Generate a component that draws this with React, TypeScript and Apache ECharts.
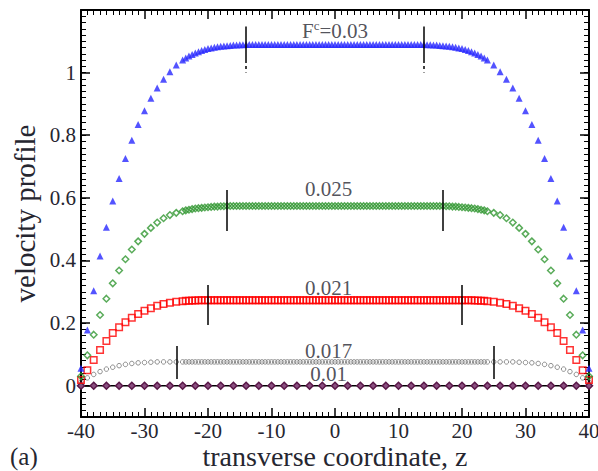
import React, { useEffect, useRef } from 'react';
import * as echarts from 'echarts';

// transverse coordinate z (shared grid for the four dense series)
const X = [
  -40, -39, -38, -37, -36, -35, -34, -33, -32, -31, -30, -29, -28, -27, -26, -25,
  -24, -23.5, -23, -22.5, -22, -21.5, -21, -20.5, -20, -19.5, -19, -18.5, -18, -17.5, -17, -16.5,
  -16, -15.5, -15, -14.5, -14, -13.5, -13, -12.5, -12, -11.5, -11, -10.5, -10, -9.5, -9, -8.5,
  -8, -7.5, -7, -6.5, -6, -5.5, -5, -4.5, -4, -3.5, -3, -2.5, -2, -1.5, -1, -0.5,
  0,
  0.5, 1, 1.5, 2, 2.5, 3, 3.5, 4, 4.5, 5, 5.5, 6, 6.5, 7, 7.5, 8,
  8.5, 9, 9.5, 10, 10.5, 11, 11.5, 12, 12.5, 13, 13.5, 14, 14.5, 15, 15.5, 16,
  16.5, 17, 17.5, 18, 18.5, 19, 19.5, 20, 20.5, 21, 21.5, 22, 22.5, 23, 23.5, 24,
  25, 26, 27, 28, 29, 30, 31, 32, 33, 34, 35, 36, 37, 38, 39, 40,
];

// Fc = 0.03 (blue triangles)
const V030 = [
  0.056, 0.178, 0.303, 0.414, 0.506, 0.590, 0.662, 0.726, 0.784, 0.834, 0.878, 0.918, 0.951, 0.979, 1.003, 1.024,
  1.040, 1.047, 1.053, 1.058, 1.063, 1.067, 1.071, 1.074, 1.077, 1.079, 1.081, 1.083, 1.084, 1.085, 1.086, 1.087,
  1.088, 1.088, 1.089, 1.089, 1.09, 1.09, 1.09, 1.09, 1.09, 1.09, 1.09, 1.09, 1.09, 1.09, 1.09, 1.09,
  1.09, 1.09, 1.09, 1.09, 1.09, 1.09, 1.09, 1.09, 1.09, 1.09, 1.09, 1.09, 1.09, 1.09, 1.09, 1.09,
  1.09,
  1.09, 1.09, 1.09, 1.09, 1.09, 1.09, 1.09, 1.09, 1.09, 1.09, 1.09, 1.09, 1.09, 1.09, 1.09, 1.09,
  1.09, 1.09, 1.09, 1.09, 1.09, 1.09, 1.09, 1.09, 1.09, 1.09, 1.09, 1.09, 1.089, 1.089, 1.088, 1.088,
  1.087, 1.086, 1.085, 1.084, 1.083, 1.081, 1.079, 1.077, 1.074, 1.071, 1.067, 1.063, 1.058, 1.053, 1.047, 1.040,
  1.024, 1.003, 0.979, 0.951, 0.918, 0.878, 0.834, 0.784, 0.726, 0.662, 0.590, 0.506, 0.414, 0.303, 0.178, 0.056,
];

// Fc = 0.025 (green diamonds)
const V025 = [
  0.030, 0.097, 0.163, 0.226, 0.278, 0.327, 0.368, 0.404, 0.435, 0.461, 0.485, 0.504, 0.521, 0.535, 0.545, 0.552,
  0.557, 0.560, 0.562, 0.564, 0.566, 0.567, 0.568, 0.569, 0.570, 0.571, 0.572, 0.572, 0.573, 0.573, 0.574, 0.574,
  0.574, 0.574, 0.574, 0.574, 0.574, 0.574, 0.574, 0.574, 0.574, 0.574, 0.574, 0.574, 0.574, 0.574, 0.574, 0.574,
  0.574, 0.574, 0.574, 0.574, 0.574, 0.574, 0.574, 0.574, 0.574, 0.574, 0.574, 0.574, 0.574, 0.574, 0.574, 0.574,
  0.574,
  0.574, 0.574, 0.574, 0.574, 0.574, 0.574, 0.574, 0.574, 0.574, 0.574, 0.574, 0.574, 0.574, 0.574, 0.574, 0.574,
  0.574, 0.574, 0.574, 0.574, 0.574, 0.574, 0.574, 0.574, 0.574, 0.574, 0.574, 0.574, 0.574, 0.574, 0.574, 0.574,
  0.574, 0.574, 0.573, 0.573, 0.572, 0.572, 0.571, 0.570, 0.569, 0.568, 0.567, 0.566, 0.564, 0.562, 0.560, 0.557,
  0.552, 0.545, 0.535, 0.521, 0.504, 0.485, 0.461, 0.435, 0.404, 0.368, 0.327, 0.278, 0.226, 0.163, 0.097, 0.030,
];

// Fc = 0.021 (red squares)
const V021 = [
  0.018, 0.049, 0.082, 0.114, 0.143, 0.168, 0.187, 0.203, 0.217, 0.229, 0.239, 0.247, 0.255, 0.261, 0.265, 0.268,
  0.270, 0.271, 0.271, 0.272, 0.272, 0.273, 0.273, 0.273, 0.273, 0.273, 0.273, 0.273, 0.273, 0.273, 0.273, 0.273,
  0.273, 0.273, 0.273, 0.273, 0.273, 0.273, 0.273, 0.273, 0.273, 0.273, 0.273, 0.273, 0.273, 0.273, 0.273, 0.273,
  0.273, 0.273, 0.273, 0.273, 0.273, 0.273, 0.273, 0.273, 0.273, 0.273, 0.273, 0.273, 0.273, 0.273, 0.273, 0.273,
  0.273,
  0.273, 0.273, 0.273, 0.273, 0.273, 0.273, 0.273, 0.273, 0.273, 0.273, 0.273, 0.273, 0.273, 0.273, 0.273, 0.273,
  0.273, 0.273, 0.273, 0.273, 0.273, 0.273, 0.273, 0.273, 0.273, 0.273, 0.273, 0.273, 0.273, 0.273, 0.273, 0.273,
  0.273, 0.273, 0.273, 0.273, 0.273, 0.273, 0.273, 0.273, 0.273, 0.273, 0.273, 0.272, 0.272, 0.271, 0.271, 0.270,
  0.268, 0.265, 0.261, 0.255, 0.247, 0.239, 0.229, 0.217, 0.203, 0.187, 0.168, 0.143, 0.114, 0.082, 0.049, 0.018,
];

// Fc = 0.017 (grey circles)
const V017 = [
  0.012, 0.025, 0.036, 0.045, 0.053, 0.059, 0.064, 0.068, 0.071, 0.073, 0.074, 0.075, 0.076, 0.076, 0.076, 0.076,
  0.076, 0.076, 0.076, 0.076, 0.076, 0.076, 0.076, 0.076, 0.076, 0.076, 0.076, 0.076, 0.076, 0.076, 0.076, 0.076,
  0.076, 0.076, 0.076, 0.076, 0.076, 0.076, 0.076, 0.076, 0.076, 0.076, 0.076, 0.076, 0.076, 0.076, 0.076, 0.076,
  0.076, 0.076, 0.076, 0.076, 0.076, 0.076, 0.076, 0.076, 0.076, 0.076, 0.076, 0.076, 0.076, 0.076, 0.076, 0.076,
  0.076,
  0.076, 0.076, 0.076, 0.076, 0.076, 0.076, 0.076, 0.076, 0.076, 0.076, 0.076, 0.076, 0.076, 0.076, 0.076, 0.076,
  0.076, 0.076, 0.076, 0.076, 0.076, 0.076, 0.076, 0.076, 0.076, 0.076, 0.076, 0.076, 0.076, 0.076, 0.076, 0.076,
  0.076, 0.076, 0.076, 0.076, 0.076, 0.076, 0.076, 0.076, 0.076, 0.076, 0.076, 0.076, 0.076, 0.076, 0.076, 0.076,
  0.076, 0.076, 0.076, 0.076, 0.075, 0.074, 0.073, 0.071, 0.068, 0.064, 0.059, 0.053, 0.045, 0.036, 0.025, 0.012,
];

// Fc = 0.01 (purple diamonds on the black line)
const X010 = [
  -40, -38, -36, -34, -32, -30, -28, -26, -24, -22, -20, -18, -16, -14, -12, -10, -8, -6, -4, -2,
  0, 2, 4, 6, 8, 10, 12, 14, 16, 18, 20, 22, 24, 26, 28, 30, 32, 34, 36, 38, 40,
];
const V010 = [
  0, 0, 0, 0, 0, 0, 0, 0, 0, 0, 0, 0, 0, 0, 0, 0, 0, 0, 0, 0,
  0, 0, 0, 0, 0, 0, 0, 0, 0, 0, 0, 0, 0, 0, 0, 0, 0, 0, 0, 0, 0,
];

// vertical plateau markers (at +/- MARK_X), order: 0.03, 0.025, 0.021, 0.017
const MARK_X = [14, 17, 20, 25];
const MARK_TOP = [1.147, 0.625, 0.322, 0.127];
const MARK_BOTTOM = [1.04, 0.494, 0.194, 0.021];
const MARK_DASH_BOTTOM = 1.0; // dash-dot tail below the 0.03 marker

// curve annotations
const LABEL_TEXT = ['{f|F}{sup|c}{f|=0.03}', '0.025', '0.021', '0.017', '0.01'];
const LABEL_X = [0, -1, -1, -1, -1];
const LABEL_Y = [1.133, 0.628, 0.311, 0.111, 0.036];

// axis ticks / labels
const Y_MAJOR = [0, 0.2, 0.4, 0.6, 0.8, 1, 1.2];
const Y_LABELS = [0, 0.2, 0.4, 0.6, 0.8, 1];

const FONT = 'Liberation Serif';
const TXT = '#262630';

const pairs = (xs: number[], ys: number[]) => xs.map((x, i) => [x, ys[i]]);

export default function App() {
  const ref = useRef<HTMLDivElement>(null);

  useEffect(() => {
    if (!ref.current) return;
    const chart = echarts.init(ref.current, undefined, { renderer: 'svg' });

    const xBase: any = {
      type: 'value',
      min: -40,
      max: 40,
      interval: 10,
      axisLine: { onZero: false, lineStyle: { color: '#000', width: 2 } },
      axisTick: { inside: true, length: 9, lineStyle: { color: '#000', width: 1.5 } },
      minorTick: { show: true, splitNumber: 10, length: 5, lineStyle: { color: '#000', width: 1 } },
      splitLine: { show: false },
      minorSplitLine: { show: false },
    };
    const yMinor: any = {
      type: 'value',
      min: -0.1,
      max: 1.2,
      interval: 0.02,
      axisLine: { onZero: false, lineStyle: { color: '#000', width: 2 } },
      axisTick: { inside: true, length: 5, lineStyle: { color: '#000', width: 1 } },
      axisLabel: { show: false },
      splitLine: { show: false },
    };
    const yMajor: any = {
      type: 'value',
      min: -0.1,
      max: 1.2,
      interval: 0.1,
      axisLine: { show: false, onZero: false },
      axisTick: { inside: true, length: 9, customValues: Y_MAJOR, lineStyle: { color: '#000', width: 1.5 } },
      splitLine: { show: false },
    };

    const markData: any[] = [];
    MARK_X.forEach((mx, i) => {
      [-1, 1].forEach((s) => {
        markData.push([{ coord: [s * mx, MARK_TOP[i]] }, { coord: [s * mx, MARK_BOTTOM[i]] }]);
      });
    });
    [-1, 1].forEach((s) => {
      markData.push([
        { coord: [s * MARK_X[0], MARK_BOTTOM[0]], lineStyle: { type: [3, 3], color: '#000', width: 1.5 } },
        { coord: [s * MARK_X[0], MARK_DASH_BOTTOM] },
      ]);
    });

    chart.setOption({
      animation: false,
      backgroundColor: '#fff',
      grid: { left: 81, right: 9, top: 10, bottom: 54, containLabel: false, outerBoundsMode: 'none' },
      xAxis: [
        {
          ...xBase,
          position: 'bottom',
          axisLabel: { fontFamily: FONT, fontSize: 21, color: TXT, margin: 3 },
          name: 'transverse coordinate, z',
          nameLocation: 'middle',
          nameGap: 25,
          nameMoveOverlap: false,
          nameTextStyle: { fontFamily: FONT, fontSize: 28, color: TXT },
        },
        { ...xBase, position: 'top', axisLabel: { show: false } },
      ],
      yAxis: [
        { ...yMinor, position: 'left' },
        {
          ...yMajor,
          position: 'left',
          axisLabel: {
            customValues: Y_LABELS,
            fontFamily: FONT,
            fontSize: 21,
            color: TXT,
            margin: 5,
            formatter: (v: number) => {
              const r = Math.round(v * 10);
              return r % 2 === 0 && r >= 0 && r <= 10 ? String(r / 10) : '';
            },
          },
          name: 'velocity profile',
          nameLocation: 'middle',
          nameGap: 42,
          nameRotate: 90,
          nameMoveOverlap: false,
          nameTextStyle: { fontFamily: FONT, fontSize: 29, color: TXT },
        },
        { ...yMinor, position: 'right' },
        { ...yMajor, position: 'right', axisLabel: { show: false } },
      ],
      graphic: [
        {
          type: 'text',
          left: 10,
          top: 444,
          style: { text: '(a)', fontFamily: FONT, fontSize: 25, fill: TXT },
        },
      ],
      series: [
        {
          name: '0.01',
          type: 'line',
          data: pairs(X010, V010),
          symbol: 'diamond',
          symbolSize: 7,
          showSymbol: true,
          lineStyle: { color: '#000', width: 1.5 },
          itemStyle: { color: '#8a4f80', borderColor: '#5a1848', borderWidth: 1.5 },
          z: 2,
        },
        {
          name: '0.017',
          type: 'scatter',
          data: pairs(X, V017),
          symbol: 'circle',
          symbolSize: 4.5,
          itemStyle: { color: 'rgba(0,0,0,0)', borderColor: '#707070', borderWidth: 1 },
          z: 3,
        },
        {
          name: '0.021',
          type: 'scatter',
          data: pairs(X, V021),
          symbol: 'rect',
          symbolSize: 6.5,
          itemStyle: { color: 'rgba(0,0,0,0)', borderColor: '#ff0000', borderWidth: 1.5 },
          z: 3,
        },
        {
          name: '0.025',
          type: 'scatter',
          data: pairs(X, V025),
          symbol: 'diamond',
          symbolSize: 6.5,
          itemStyle: { color: 'rgba(0,0,0,0)', borderColor: '#2f962f', borderWidth: 1.5 },
          z: 3,
        },
        {
          name: '0.03',
          type: 'scatter',
          data: pairs(X, V030),
          symbol: 'triangle',
          symbolSize: 7,
          itemStyle: { color: '#2828ff' },
          z: 3,
        },
        {
          name: 'annotations',
          type: 'scatter',
          symbolSize: 1,
          itemStyle: { color: 'rgba(0,0,0,0)' },
          z: 5,
          data: LABEL_TEXT.map((t, i) => ({ value: [LABEL_X[i], LABEL_Y[i]], label: { formatter: t } })),
          label: {
            show: true,
            position: 'inside',
            fontFamily: FONT,
            fontSize: 21,
            color: TXT,
            rich: {
              f: { fontFamily: FONT, fontSize: 21, lineHeight: 24, color: TXT },
              sup: { fontFamily: FONT, fontSize: 13, lineHeight: 13, color: TXT, padding: [0, 0, 11, 0] },
            },
          },
          markLine: {
            silent: true,
            symbol: ['none', 'none'],
            label: { show: false },
            lineStyle: { color: '#000', width: 1.5, type: 'solid' },
            data: markData,
          },
        },
      ],
    });

    return () => chart.dispose();
  }, []);

  return (
    <div
      ref={ref}
      style={{ position: 'fixed', left: 0, top: 0, width: 598, height: 471, background: '#fff' }}
    />
  );
}
